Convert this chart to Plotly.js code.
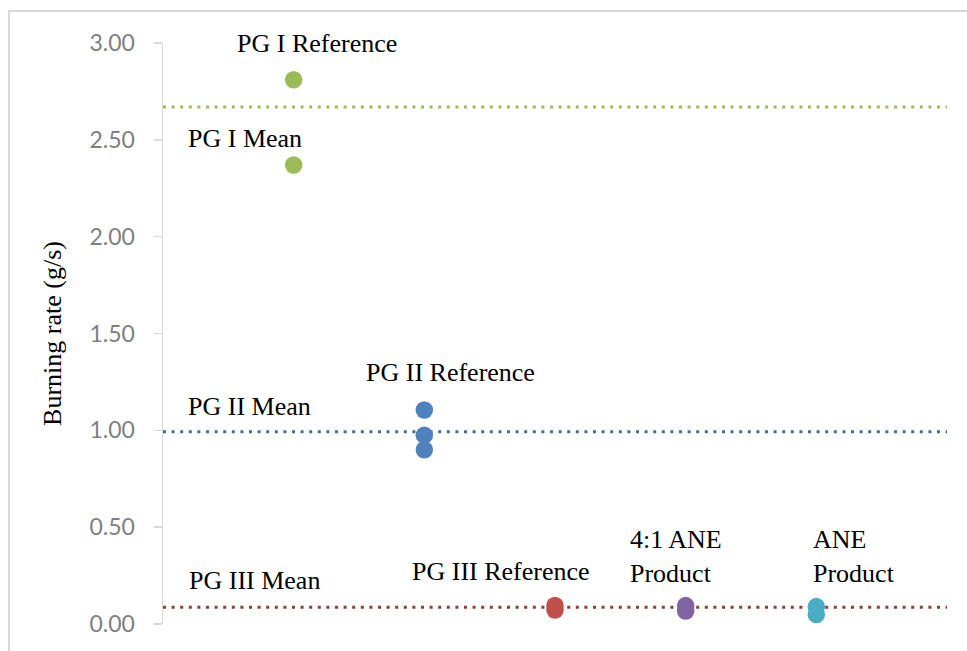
<!DOCTYPE html>
<html>
<head>
<meta charset="utf-8">
<script src="https://cdn.plot.ly/plotly-3.0.1.min.js"></script>
<style>
  html, body { margin: 0; padding: 0; background: #ffffff; }
  #frame { position: absolute; left: 8px; top: 10px; width: 1000px; height: 700px; border: 2px solid #d9d9d9; box-sizing: border-box; }
  #chart { position: absolute; left: 0; top: 0; width: 967px; height: 651px; }
</style>
</head>
<body>
<div id="frame"></div>
<div id="chart"></div>
<script>
// Group positions (category index) and measured burning rates (g/s)
var groupNames = ["PG I Reference", "PG II Reference", "PG III Reference", "4:1 ANE Product", "ANE Product"];
var groupX = [1, 2, 3, 4, 5];
var pg1Values = [2.81, 2.37];
var pg2Values = [1.105, 0.975, 0.90];
var pg3Values = [0.096, 0.072];
var ane41Values = [0.095, 0.067];
var aneValues = [0.09, 0.049];
var groupColors = ["#9bbb59", "#4f81bd", "#c0504d", "#8064a2", "#4bacc6"];

// Mean reference lines
var meanNames = ["PG I Mean", "PG II Mean", "PG III Mean"];
var meanValues = [2.67, 0.993, 0.086];
var meanColors = ["#9bbb59", "#4a6a93", "#8e3b3b"];
var lineSpan = [0, 6];

// Label texts and their anchor positions (data coords)
var labelTexts = ["PG I Reference", "PG I Mean", "PG II Reference", "PG II Mean", "PG III Mean", "PG III Reference", "4:1 ANE<br>Product", "ANE<br>Product"];
var labelX = [0.553, 0.179, 1.538, 0.179, 0.187, 1.889, 3.561, 4.958];
var labelY = [2.996, 2.505, 1.30, 1.125, 0.227, 0.269, 0.346, 0.346];

var groupValues = [pg1Values, pg2Values, pg3Values, ane41Values, aneValues];

var traces = [];
for (var m = 0; m < meanValues.length; m++) {
  traces.push({
    type: "scatter", mode: "lines", name: meanNames[m],
    x: lineSpan, y: [meanValues[m], meanValues[m]],
    line: { color: meanColors[m], width: 3, dash: "3px,5.6px" },
    hoverinfo: "skip", cliponaxis: false
  });
}
for (var g = 0; g < groupValues.length; g++) {
  var xs = groupValues[g].map(function () { return groupX[g]; });
  traces.push({
    type: "scatter", mode: "markers", name: groupNames[g],
    x: xs, y: groupValues[g],
    marker: { color: groupColors[g], size: 17.5, line: { width: 0 } },
    cliponaxis: false
  });
}

var annotations = labelTexts.map(function (t, i) {
  return {
    text: t, x: labelX[i], y: labelY[i], xref: "x", yref: "y",
    xanchor: "left", yanchor: "middle", align: "left", showarrow: false,
    font: { family: "Liberation Serif, Times New Roman, serif", size: 26, color: "#000000" }
  };
});

var layout = {
  width: 967, height: 651,
  margin: { l: 163, r: 20, t: 43, b: 27 },
  paper_bgcolor: "rgba(0,0,0,0)",
  plot_bgcolor: "rgba(0,0,0,0)",
  showlegend: false,
  xaxis: { range: [0, 6], visible: false, fixedrange: true },
  yaxis: {
    range: [0, 3], tickvals: [0, 0.5, 1, 1.5, 2, 2.5, 3], tickformat: ".2f",
    showgrid: false, zeroline: false,
    showline: true, linecolor: "#d9d9d9", linewidth: 1.5,
    ticks: "outside", ticklen: 8, tickcolor: "#d9d9d9", tickwidth: 1.5,
    ticklabelstandoff: 14,
    tickfont: { family: "Lato, Open Sans, sans-serif", size: 23, color: "#808080" },
    title: { text: "Burning rate (g/s)", standoff: 20,
      font: { family: "Liberation Serif, Times New Roman, serif", size: 26, color: "#000000" } }
  },
  annotations: annotations
};

Plotly.newPlot("chart", traces, layout, { displayModeBar: false, staticPlot: true });
</script>
</body>
</html>
